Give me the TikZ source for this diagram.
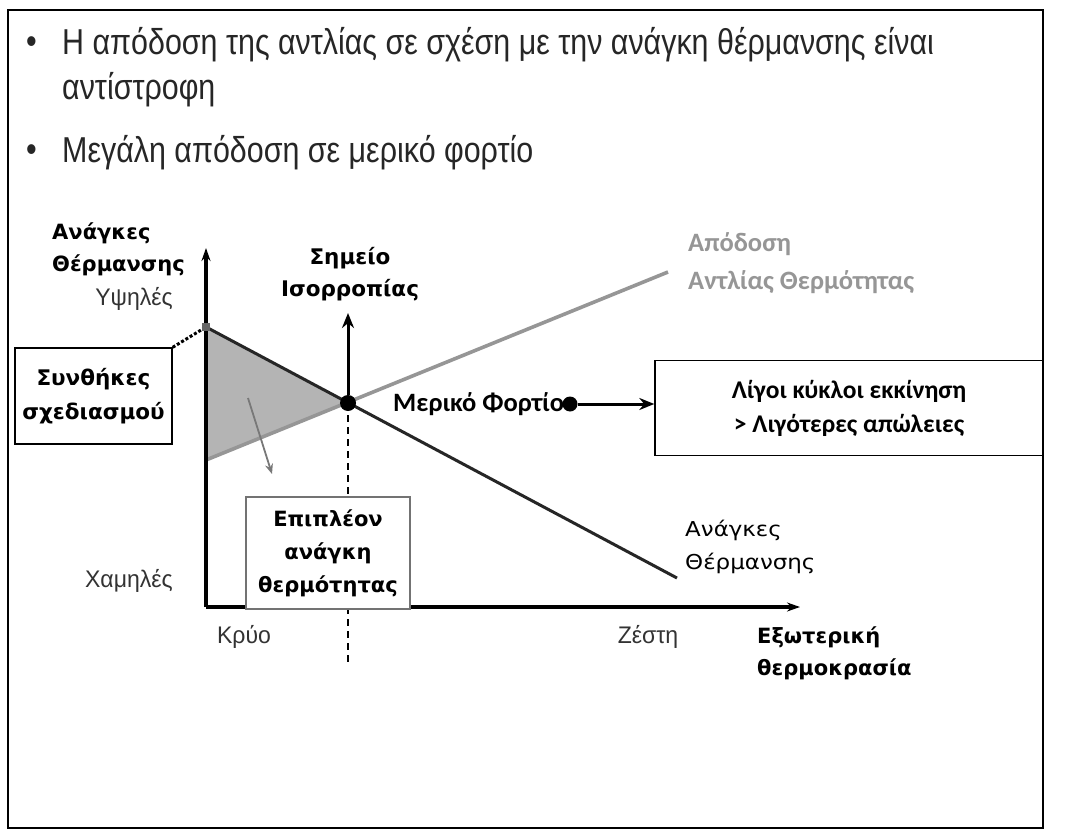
\documentclass[tikz,border=0pt]{standalone}
\usepackage{fontspec}
\setmainfont{Liberation Sans}
\newfontfamily\narrowf{Liberation Sans}[FakeStretch=0.845]
\newfontfamily\narrowlf{Liberation Sans}[FakeStretch=0.96]
\newfontfamily\dejaf{DejaVu Sans}
\newfontfamily\dejawf{DejaVu Sans}[FakeStretch=1.12]
\newfontfamily\carlf{Carlito}
\usetikzlibrary{arrows.meta,calc}
\definecolor{pumpgray}{RGB}{150,150,150}
\definecolor{shadegray}{RGB}{180,180,180}
\tikzset{
  bullettext/.style={font=\narrowf\fontsize{36}{40}\selectfont, anchor=west, inner sep=0pt, text=black!85},
  narrowlab/.style={font=\narrowlf\fontsize{24}{26}\selectfont, inner sep=0pt, text=black!80},
  boldlab/.style={font=\dejaf\bfseries\fontsize{21}{32}\selectfont, inner sep=0pt, align=left},
  reglab/.style={font=\dejawf\fontsize{20.5}{33}\selectfont, inner sep=0pt, align=left},
  calib/.style={font=\carlf\bfseries\fontsize{26.5}{38}\selectfont, inner sep=0pt},
  boxed/.style={draw, line width=1.4pt, fill=white},
  axis/.style={line width=3.2pt, -{Stealth[length=13pt,width=9pt]}},
  bigarrow/.style={line width=3pt, -{Stealth[length=15pt,width=12pt]}},
  dotmark/.style={circle, fill=black, inner sep=0pt, minimum size=16pt}
}
\begin{document}
\begin{tikzpicture}[x=1pt,y=-1pt]
\useasboundingbox (0,0) rectangle (1067,837);
\fill[white] (0,0) rectangle (1067,837);
\draw[line width=1.8pt] (8,10) rectangle (1043,828);

% bullets
\node[bullettext] (b1) at (26,45) {•};
\node[bullettext] (t1) at (62,45) {Η απόδοση της αντλίας σε σχέση με την ανάγκη θέρμανσης είναι};
\node[bullettext] (t2) at (62,90) {αντίστροφη};
\node[bullettext] (b2) at (26,153) {•};
\node[bullettext] (t3) at (62,153) {Μεγάλη απόδοση σε μερικό φορτίο};

% key coordinates
\coordinate (O) at (206,607);
\coordinate (Ytop) at (206,248);
\coordinate (Xend) at (800,607);
\coordinate (H1) at (206,327);
\coordinate (H2) at (677,578);
\coordinate (P1) at (206,460);
\coordinate (P2) at (668,272);
\coordinate (E) at (348,403);
\coordinate (Eup) at (348,313);
\coordinate (Edown) at (348,665);
\coordinate (GA1) at (248,398);
\coordinate (GA2) at (272,474);

% shaded triangle
\fill[shadegray] (H1) -- (E) -- (P1) -- cycle;

% dashed vertical
\draw[line width=1.4pt, dash pattern=on 7pt off 5pt] (E) -- (Edown);

% lines
\draw[pumpgray, line width=3.6pt] (P1) -- (P2);
\draw[black!85, line width=3pt] (H1) -- (H2);

% gray arrow
\draw[pumpgray!80!black, line width=1.8pt, -{Stealth[length=10pt,width=8pt]}] (GA1) -- (GA2);

% axes
\draw[axis] (O) -- (Ytop);
\draw[axis] (O) -- (Xend);

% Επιπλέον box
\node[boxed, draw=black!55, minimum width=164pt, minimum height=112pt, align=center,
      font=\dejaf\bfseries\fontsize{21}{33}\selectfont, inner sep=0pt] (extra) at (328,553)
      {Επιπλέον\\ανάγκη\\θερμότητας};

% equilibrium
\node[dotmark] (Edot) at (E) {};
\draw[bigarrow] (Edot) -- (Eup);
\node[boldlab, align=center, font=\dejaf\bfseries\fontsize{21.5}{32}\selectfont] (eq) at (350,274) {Σημείο\\Ισορροπίας};

% design conditions box
\node[boxed, minimum width=157pt, minimum height=96pt, align=center,
      font=\dejaf\bfseries\fontsize{21.5}{34}\selectfont, inner sep=0pt] (design) at (93.5,396) {Συνθήκες\\σχεδιασμού};
\draw[line width=3pt, dotted] (design.north east) -- (H1);
\fill[black!60] ($(H1)+(-4,-4)$) rectangle ($(H1)+(4,4)$);

% axis labels
\node[boldlab, anchor=west] (ylab) at (52,249) {Ανάγκες\\Θέρμανσης};
\node[narrowlab, anchor=east] (high) at (173,299) {Υψηλές};
\node[narrowlab, anchor=east] (low) at (173,581) {Χαμηλές};
\node[narrowlab] (cold) at (244,637) {Κρύο};
\node[narrowlab] (hot) at (648,637) {Ζέστη};
\node[boldlab, anchor=west] (xlab) at (757,653) {Εξωτερική\\θερμοκρασία};

% curve labels
\node[calib, text=pumpgray, anchor=west, align=left] (pumplab) at (688,263) {Απόδοση\\Αντλίας Θερμότητας};
\node[reglab, anchor=west] (heatlab) at (685,547) {Ανάγκες\\Θέρμανσης};

% partial load
\node[calib, anchor=west] (part) at (393,404) {Μερικό Φορτίο};
\node[dotmark, minimum size=15pt] (pdot) at (570,404) {};
\node[boxed, minimum width=388pt, minimum height=95pt, align=center,
      font=\carlf\bfseries\fontsize{25.5}{34}\selectfont, inner sep=0pt] (few) at (849,408)
      {Λίγοι κύκλοι εκκίνηση\\> Λιγότερες απώλειες};
\draw[bigarrow] (pdot) -- (pdot -| few.west);
\end{tikzpicture}
\end{document}
